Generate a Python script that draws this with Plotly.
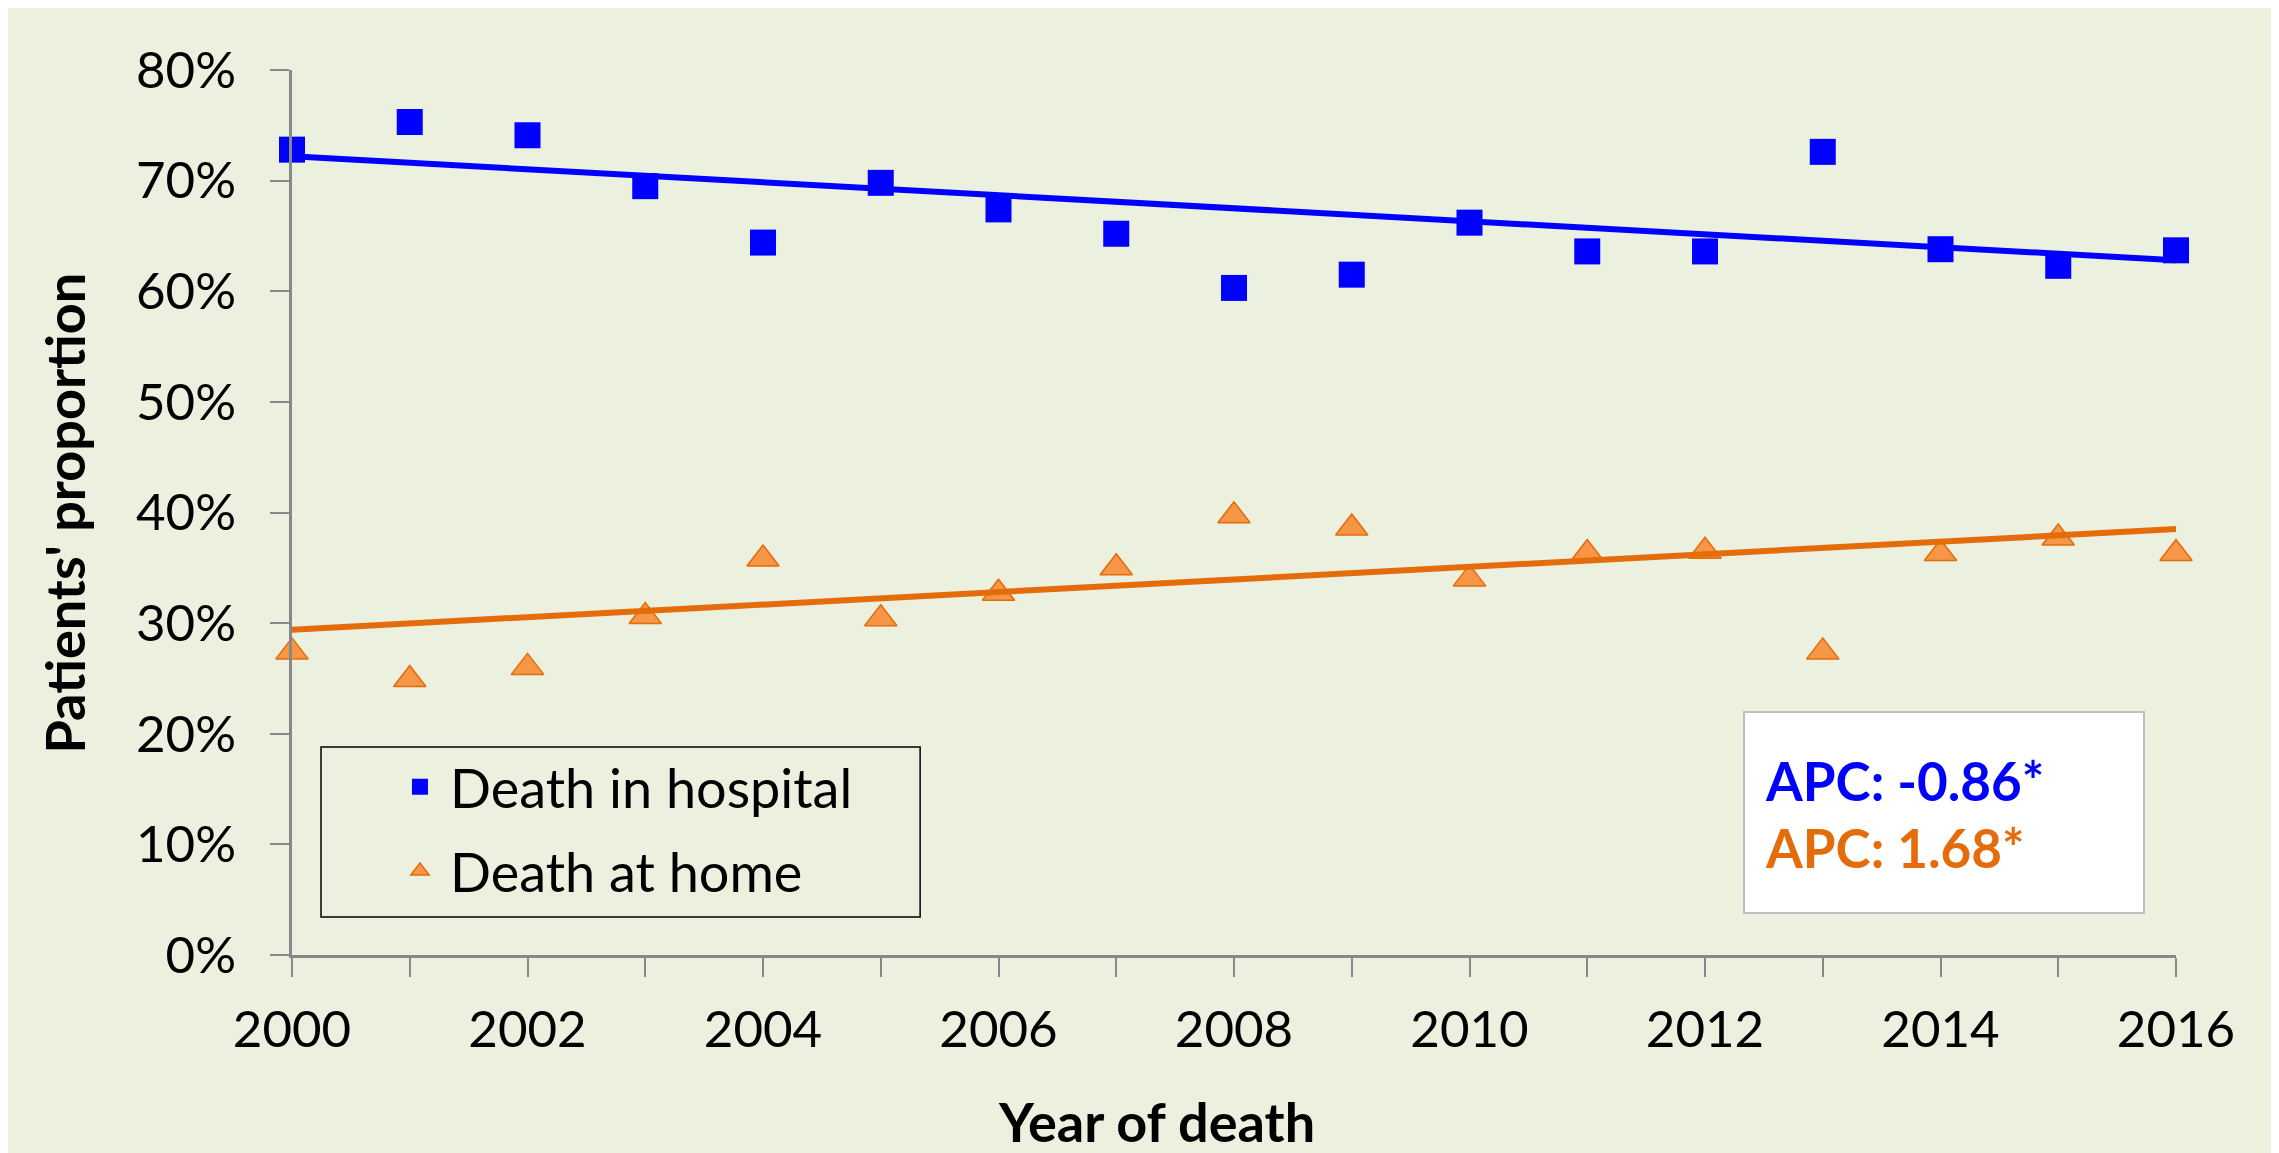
import plotly.graph_objects as go

# ---- data ----
years = list(range(2000, 2017))
hospital = [72.8, 75.3, 74.1, 69.5, 64.4, 69.8, 67.4, 65.2, 60.3, 61.5, 66.2, 63.6, 63.6, 72.6, 63.8, 62.3, 63.7]
home = [27.4, 24.9, 26.0, 30.6, 35.8, 30.4, 32.7, 35.0, 39.7, 38.6, 34.0, 36.3, 36.5, 27.4, 36.3, 37.7, 36.3]
trend_years = [2000, 2016]
trend_hospital = [72.2, 62.8]
trend_home = [29.4, 38.5]
y_tickvals = [0, 10, 20, 30, 40, 50, 60, 70, 80]
y_ticktext = [f"{v}%" for v in y_tickvals]
x_ticktext = [str(y) if y % 2 == 0 else "" for y in years]
apc_hospital = "APC: -0.86*"
apc_home = "APC: 1.68*"

BLUE = "#0000FF"
ORANGE_LINE = "#E46C0A"
ORANGE_FILL = "#F79646"
BG = "#EBF0DF"
AXIS = "#888888"
FONT = "Lato"

fig = go.Figure()

fig.add_trace(go.Scatter(
    x=years, y=hospital, mode="markers", name="Death in hospital",
    marker=dict(symbol="square", size=26, color=BLUE, line=dict(width=0)),
    cliponaxis=False, legendgroup="a"))
fig.add_trace(go.Scatter(
    x=years, y=home, mode="markers", name="Death at home",
    marker=dict(symbol="triangle-up", size=28, color=ORANGE_FILL,
                line=dict(width=1.5, color=ORANGE_LINE)),
    cliponaxis=False, legendgroup="b"))
fig.add_trace(go.Scatter(
    x=trend_years, y=trend_hospital, mode="lines", showlegend=False,
    line=dict(color=BLUE, width=6), cliponaxis=False))
fig.add_trace(go.Scatter(
    x=trend_years, y=trend_home, mode="lines", showlegend=False,
    line=dict(color=ORANGE_LINE, width=6), cliponaxis=False))

fig.update_layout(
    width=2271, height=1145,
    margin=dict(l=284, r=103, t=62, b=198),
    paper_bgcolor=BG, plot_bgcolor=BG,
    font=dict(family=FONT, size=48, color="black"),
    showlegend=True,
    legend=dict(x=0.052, y=0.237, xanchor="left", yanchor="top",
                bgcolor="rgba(0,0,0,0)", borderwidth=0,
                font=dict(family=FONT, size=54), tracegroupgap=11,
                itemsizing="trace", itemwidth=50),
    xaxis=dict(range=[2000, 2016], tickvals=years, ticktext=x_ticktext,
               showgrid=False, zeroline=False, showline=True, linecolor=AXIS,
               linewidth=2.5, ticks="outside", ticklen=19, tickwidth=2,
               tickcolor=AXIS, tickfont=dict(size=51), ticklabelstandoff=9),
    yaxis=dict(range=[0, 80], tickvals=y_tickvals, ticktext=y_ticktext,
               showgrid=False, zeroline=False, showline=True, linecolor=AXIS,
               linewidth=2.5, ticks="outside", ticklen=19, tickwidth=2,
               tickcolor=AXIS, tickfont=dict(size=51), ticklabelstandoff=24),
    shapes=[
        dict(type="rect", xref="paper", yref="paper", x0=0.0154, x1=0.3334,
             y0=0.0430, y1=0.2350, line=dict(color="black", width=1.5),
             fillcolor="rgba(0,0,0,0)", layer="below"),
        dict(type="rect", xref="paper", yref="paper", x0=0.7707, x1=0.983,
             y0=0.0475, y1=0.2746, line=dict(color="#BFBFBF", width=2),
             fillcolor="white", layer="below"),
    ],
    annotations=[
        dict(text="<b>Patients' proportion</b>", xref="paper", yref="paper",
             x=-0.1205, y=0.5, textangle=-90, showarrow=False,
             font=dict(size=54), xanchor="center", yanchor="middle"),
        dict(text="<b>Year of death</b>", xref="paper", yref="paper",
             x=0.459, y=-0.1876, showarrow=False, font=dict(size=54),
             xanchor="center", yanchor="middle"),
        dict(text=f"<b>{apc_hospital}</b>", xref="paper", yref="paper",
             x=0.7808, y=0.1977, showarrow=False, xanchor="left",
             yanchor="middle", font=dict(size=53, color=BLUE)),
        dict(text=f"<b>{apc_home}</b>", xref="paper", yref="paper",
             x=0.7808, y=0.1220, showarrow=False, xanchor="left",
             yanchor="middle", font=dict(size=53, color=ORANGE_LINE)),
    ],
)

fig.write_html("out.html")
